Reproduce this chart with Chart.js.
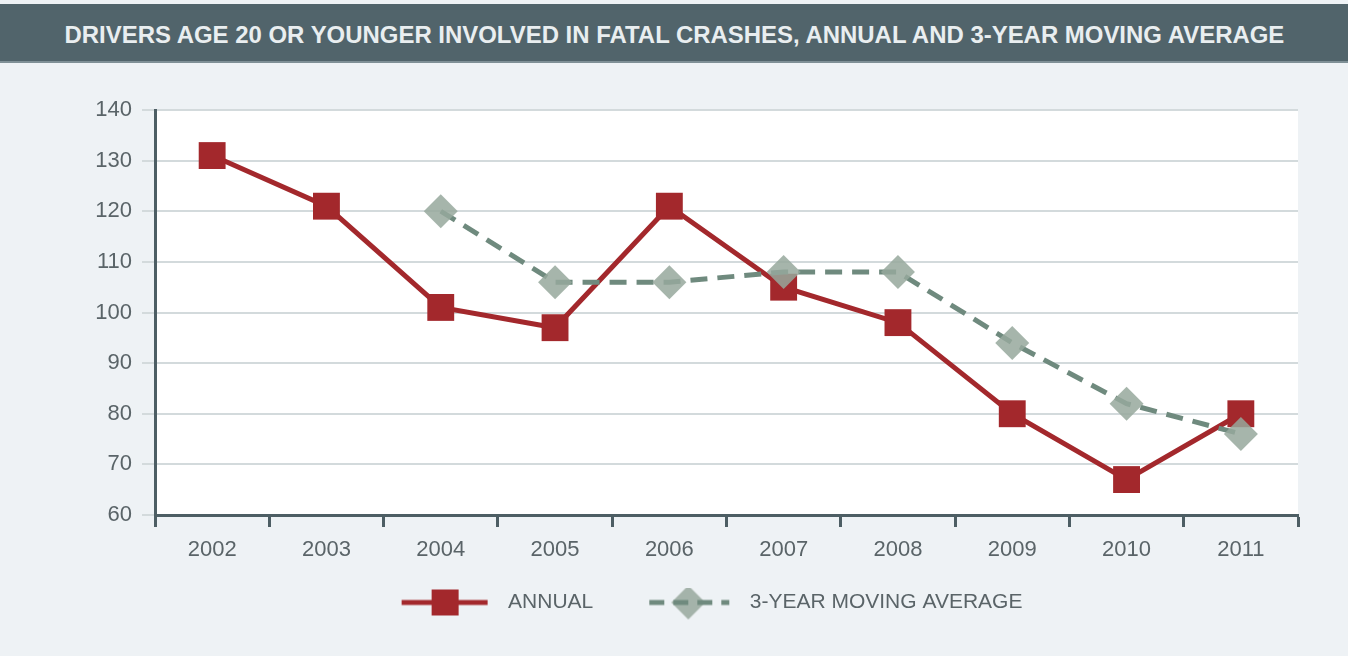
<!DOCTYPE html>
<html>
<head>
<meta charset="utf-8">
<script src="https://cdn.jsdelivr.net/npm/chart.js@4"></script>
<style>
    html, body { margin: 0; padding: 0; background: #eef2f5; }
    body { width: 1348px; height: 656px; overflow: hidden; }
    #title {
        margin-top: 4px;
        height: 57px;
        background: #51646b;
        border-bottom: 2px solid #7f9096;
        text-align: center;
        overflow: hidden;
    }
    #title span {
        display: inline-block;
        white-space: nowrap;
        line-height: 61px;
        color: #e9eef0;
        font-family: 'Liberation Sans', Arial, sans-serif;
        font-weight: bold;
        font-size: 24px;
        transform-origin: center center;
    }
    #wrap { position: relative; width: 1348px; height: 593px; }
</style>
</head>
<body>
<div id="title"><span id="titleText">DRIVERS AGE 20 OR YOUNGER INVOLVED IN FATAL CRASHES, ANNUAL AND 3-YEAR MOVING AVERAGE</span></div>
<div id="wrap"><canvas id="chart"></canvas></div>
<script>
const years = ['2002', '2003', '2004', '2005', '2006', '2007', '2008', '2009', '2010', '2011'];
const annual = [131, 121, 101, 97, 121, 105, 98, 80, 67, 80];
const movingAverage = [null, null, 120, 106, 106, 108, 108, 94, 82, 76];
const yMin = 60;
const yMax = 140;
const yStep = 10;

const RED = '#a3282c';
const GREEN_LINE = '#6f8a7e';
const GREEN_FILL = 'rgba(150, 168, 156, 0.85)';
const AXIS = '#4d5e64';
const GRID = '#d3dadc';
const TEXT = '#5a6468';
const FONT = "'Liberation Sans', Arial, sans-serif";

// squeeze the title into the width it has in the original (condensed face)
const titleText = document.getElementById('titleText');
titleText.style.transform = `scaleX(${1220 / titleText.offsetWidth})`;

// legend swatches: line with marker, with a blank margin on the left
const SW_MARGIN = 52;
function makeSwatch(kind) {
    const c = document.createElement('canvas');
    c.width = 90 + SW_MARGIN;
    c.height = 36;
    const g = c.getContext('2d');
    const cy = 18;
    g.translate(SW_MARGIN, 0);
    if (kind === 'annual') {
        g.strokeStyle = RED;
        g.lineWidth = 5;
        g.beginPath();
        g.moveTo(-6, cy);
        g.lineTo(80, cy);
        g.stroke();
        g.fillStyle = RED;
        g.fillRect(37 - 13, cy - 13, 27, 26);
    } else {
        g.fillStyle = GREEN_FILL;
        g.beginPath();
        g.moveTo(39, cy - 17);
        g.lineTo(56, cy);
        g.lineTo(39, cy + 17);
        g.lineTo(22, cy);
        g.closePath();
        g.fill();
        g.strokeStyle = GREEN_LINE;
        g.lineWidth = 5;
        g.setLineDash([15, 9]);
        g.beginPath();
        g.moveTo(0, cy);
        g.lineTo(80, cy);
        g.stroke();
    }
    return c;
}

const swatches = [makeSwatch('annual'), makeSwatch('avg')];

const plotBackground = {
    id: 'plotBackground',
    beforeDraw(chart) {
        const a = chart.chartArea;
        const ctx = chart.ctx;
        ctx.save();
        ctx.fillStyle = '#ffffff';
        ctx.fillRect(a.left, a.top, a.right - a.left, a.bottom - a.top);
        ctx.restore();
    }
};

new Chart(document.getElementById('chart'), {
    type: 'line',
    data: {
        labels: years,
        datasets: [
            {
                label: 'ANNUAL',
                data: annual,
                borderColor: RED,
                backgroundColor: RED,
                borderWidth: 5,
                pointStyle: 'rect',
                pointRadius: 19,
                pointHoverRadius: 19,
                pointBorderWidth: 0,
                tension: 0,
                order: 2
            },
            {
                label: '3-YEAR MOVING AVERAGE',
                data: movingAverage,
                borderColor: GREEN_LINE,
                backgroundColor: GREEN_FILL,
                borderWidth: 5,
                borderDash: [17, 10],
                pointStyle: 'rectRot',
                pointRadius: 17,
                pointHoverRadius: 17,
                pointBorderWidth: 0,
                tension: 0,
                order: 1
            }
        ]
    },
    options: {
        responsive: true,
        maintainAspectRatio: false,
        animation: false,
        layout: { padding: { left: 80, right: 50, top: 47, bottom: 33 } },
        scales: {
            x: {
                offset: true,
                grid: {
                    offset: true,
                    drawOnChartArea: false,
                    drawTicks: true,
                    tickLength: 12,
                    tickColor: AXIS,
                    tickWidth: 3
                },
                border: { display: true, color: AXIS, width: 3 },
                ticks: {
                    color: TEXT,
                    font: { family: FONT, size: 22 },
                    padding: 10,
                    maxRotation: 0
                },
                afterFit(scale) { scale.height = 73; }
            },
            y: {
                min: yMin,
                max: yMax,
                grid: {
                    color: GRID,
                    lineWidth: 2,
                    drawTicks: true,
                    tickLength: 13,
                    tickColor: GRID
                },
                border: { display: true, color: AXIS, width: 3 },
                ticks: {
                    stepSize: yStep,
                    color: TEXT,
                    font: { family: FONT, size: 22 },
                    padding: 10
                },
                afterFit(scale) { scale.width = 75; }
            }
        },
        plugins: {
            legend: {
                position: 'bottom',
                labels: {
                    usePointStyle: true,
                    pointStyleWidth: 90 + SW_MARGIN,
                    padding: 4,
                    color: TEXT,
                    font: { family: FONT, size: 21 },
                    generateLabels(chart) {
                        return chart.data.datasets.map((ds, i) => ({
                            text: ds.label,
                            pointStyle: swatches[i],
                            fillStyle: 'transparent',
                            strokeStyle: 'transparent',
                            lineWidth: 0,
                            fontColor: TEXT,
                            datasetIndex: i,
                            hidden: false
                        }));
                    }
                }
            },
            tooltip: { enabled: false }
        }
    },
    plugins: [plotBackground]
});
</script>
</body>
</html>
